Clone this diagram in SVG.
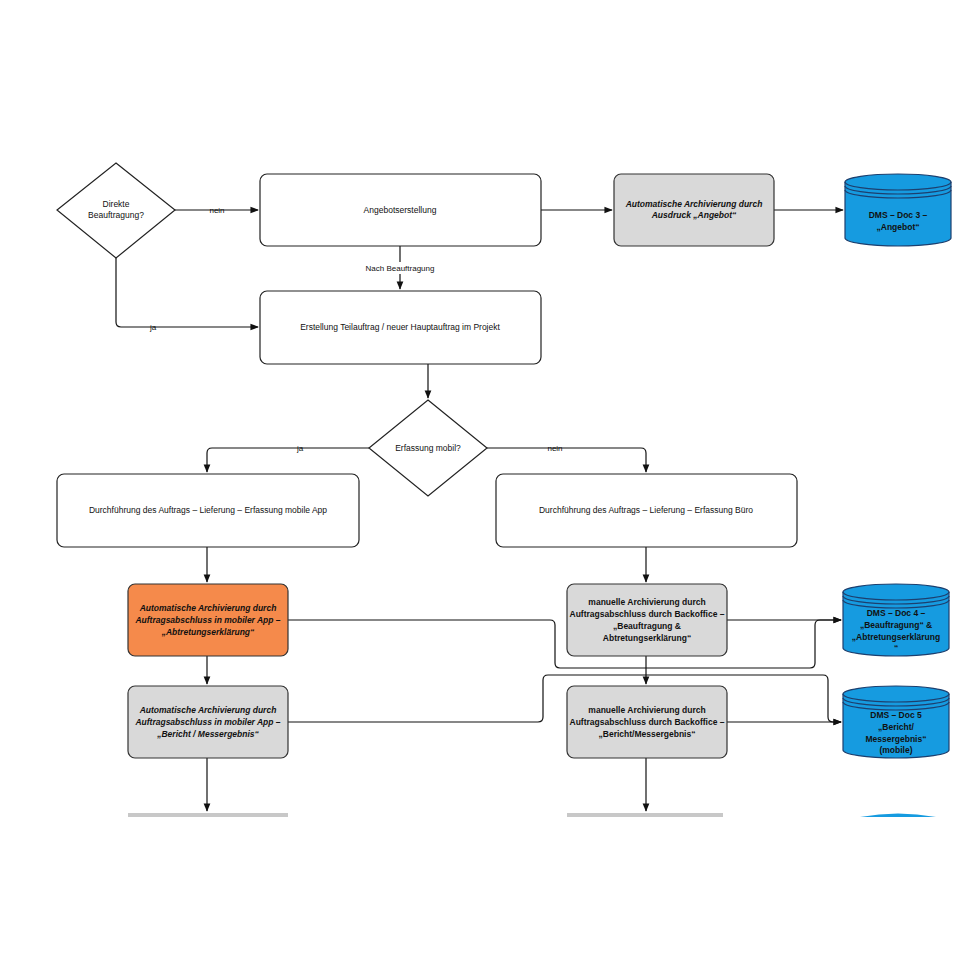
<svg xmlns="http://www.w3.org/2000/svg" width="960" height="960" viewBox="0 0 960 960">
<defs>
<marker id="arr" viewBox="0 0 10 10" refX="9" refY="5" markerWidth="7" markerHeight="7" orient="auto-start-reverse"><path d="M0,1 L10,5 L0,9 z" fill="#111"/></marker>
<style>
.box{fill:#fff;stroke:#222;stroke-width:1.2}
.gray{fill:#d9d9d9;stroke:#333;stroke-width:1.2}
.orange{fill:#f58a4b;stroke:#333;stroke-width:1.2}
.dia{fill:#fff;stroke:#222;stroke-width:1.2}
.cyl{fill:#169be0;stroke:#1d3f6e;stroke-width:1.2}
.cylline{fill:none;stroke:#1d3f6e;stroke-width:1.2}
.ln{fill:none;stroke:#111;stroke-width:1.2}
.cut{fill:#c8c8c8;stroke:none}
text{font-family:"Liberation Sans",Arial,sans-serif;font-size:8.5px;fill:#111;text-anchor:middle}
.b{font-weight:bold;font-style:italic}
.c{font-weight:bold;fill:#111}
.lbl{font-size:8px}
</style>
</defs>
<rect width="960" height="960" fill="#fff"/>

<g id="connectors">
<path class="ln" d="M175,210 H258" marker-end="url(#arr)"/>
<text class="lbl" x="217" y="213">nein</text>
<path class="ln" d="M541,210 H612" marker-end="url(#arr)"/>
<path class="ln" d="M774,210 H843" marker-end="url(#arr)"/>
<path class="ln" d="M400,246 V289" marker-end="url(#arr)"/>
<rect x="356" y="262" width="88" height="12" fill="#fff"/>
<text class="lbl" x="400" y="271">Nach Beauftragung</text>
<path class="ln" d="M116,258 V322 Q116,327 121,327 H258" marker-end="url(#arr)"/>
<text class="lbl" x="153" y="330">ja</text>
<path class="ln" d="M428,364 V398" marker-end="url(#arr)"/>
<path class="ln" d="M369,448 H212 Q207,448 207,453 V472" marker-end="url(#arr)"/>
<text class="lbl" x="300" y="451">ja</text>
<path class="ln" d="M487,448 H641 Q646,448 646,453 V472" marker-end="url(#arr)"/>
<text class="lbl" x="555" y="451">nein</text>
<path class="ln" d="M207,547 V582" marker-end="url(#arr)"/>
<path class="ln" d="M207,656 V684" marker-end="url(#arr)"/>
<path class="ln" d="M207,758 V811" marker-end="url(#arr)"/>
<path class="ln" d="M646,547 V582" marker-end="url(#arr)"/>
<path class="ln" d="M646,656 V684" marker-end="url(#arr)"/>
<path class="ln" d="M646,758 V811" marker-end="url(#arr)"/>
<path class="ln" d="M288,620 H550 Q555,620 555,625 V663 Q555,668 560,668 H810 Q815,668 815,663 V625 Q815,620 820,620 H841" marker-end="url(#arr)"/>
<path class="ln" d="M727,620 H841" marker-end="url(#arr)"/>
<path class="ln" d="M288,722 H538 Q543,722 543,717 V680 Q543,675 548,675 H823 Q828,675 828,680 V717 Q828,722 833,722 H841" marker-end="url(#arr)"/>
<path class="ln" d="M727,722 H841" marker-end="url(#arr)"/>
</g>

<g id="n_direkt">
<polygon class="dia" points="116,163 175,210 116,258 57,210"/>
<text x="116" y="207">Direkte</text>
<text x="116" y="218">Beauftragung?</text>
</g>

<g id="n_angebot">
<rect class="box" x="260" y="174" width="281" height="72" rx="7"/>
<text x="400" y="213">Angebotserstellung</text>
</g>

<g id="n_arch1">
<rect class="gray" x="614" y="174" width="160" height="72" rx="7"/>
<text class="b" x="694" y="207">Automatische Archivierung durch</text>
<text class="b" x="694" y="218">Ausdruck „Angebot“</text>
</g>

<g id="n_dms3">
<path class="cyl" d="M845,182 A53,8 0 0 1 951,182 V238 A53,8 0 0 1 845,238 Z"/>
<path class="cylline" d="M845,182 A53,8 0 0 0 951,182 M845,186 A53,8 0 0 0 951,186 M845,190 A53,8 0 0 0 951,190"/>
<text class="c" x="898" y="218">DMS – Doc 3 –</text>
<text class="c" x="898" y="230">„Angebot“</text>
</g>

<g id="n_erstellung">
<rect class="box" x="260" y="291" width="281" height="73" rx="7"/>
<text x="400" y="330">Erstellung Teilauftrag / neuer Hauptauftrag im Projekt</text>
</g>

<g id="n_mobil">
<polygon class="dia" points="428,400 487,448 428,496 369,448"/>
<text x="428" y="451">Erfassung mobil?</text>
</g>

<g id="n_durch_mobil">
<rect class="box" x="57" y="474" width="302" height="73" rx="7"/>
<text x="208" y="513">Durchführung des Auftrags – Lieferung – Erfassung mobile App</text>
</g>

<g id="n_durch_buero">
<rect class="box" x="496" y="474" width="301" height="73" rx="7"/>
<text x="646" y="513">Durchführung des Auftrags – Lieferung – Erfassung Büro</text>
</g>

<g id="n_auto_abtretung">
<rect class="orange" x="128" y="584" width="160" height="72" rx="7"/>
<text class="b" x="208" y="611">Automatische Archivierung durch</text>
<text class="b" x="208" y="623">Auftragsabschluss in mobiler App –</text>
<text class="b" x="208" y="635">„Abtretungserklärung“</text>
</g>

<g id="n_manuell_abtretung">
<rect class="gray" x="567" y="584" width="160" height="72" rx="7"/>
<text class="c" x="647" y="605">manuelle Archivierung durch</text>
<text class="c" x="647" y="617">Auftragsabschluss durch Backoffice –</text>
<text class="c" x="647" y="629">„Beauftragung &amp;</text>
<text class="c" x="647" y="641">Abtretungserklärung“</text>
</g>

<g id="n_dms4">
<path class="cyl" d="M843,592 A53,8 0 0 1 949,592 V648 A53,8 0 0 1 843,648 Z"/>
<path class="cylline" d="M843,592 A53,8 0 0 0 949,592 M843,596 A53,8 0 0 0 949,596 M843,600 A53,8 0 0 0 949,600"/>
<text class="c" x="896" y="616">DMS – Doc 4 –</text>
<text class="c" x="896" y="628">„Beauftragung“ &amp;</text>
<text class="c" x="896" y="640">„Abtretungserklärung</text>
<text class="c" x="896" y="651">“</text>
</g>

<g id="n_auto_bericht">
<rect class="gray" x="128" y="686" width="160" height="72" rx="7"/>
<text class="b" x="208" y="713">Automatische Archivierung durch</text>
<text class="b" x="208" y="725">Auftragsabschluss in mobiler App –</text>
<text class="b" x="208" y="737">„Bericht / Messergebnis“</text>
</g>

<g id="n_manuell_bericht">
<rect class="gray" x="567" y="686" width="160" height="72" rx="7"/>
<text class="c" x="647" y="713">manuelle Archivierung durch</text>
<text class="c" x="647" y="725">Auftragsabschluss durch Backoffice –</text>
<text class="c" x="647" y="737">„Bericht/Messergebnis“</text>
</g>

<g id="n_dms5">
<path class="cyl" d="M843,694 A53,8 0 0 1 949,694 V750 A53,8 0 0 1 843,750 Z"/>
<path class="cylline" d="M843,694 A53,8 0 0 0 949,694 M843,698 A53,8 0 0 0 949,698 M843,702 A53,8 0 0 0 949,702"/>
<text class="c" x="896" y="718">DMS – Doc 5</text>
<text class="c" x="896" y="730">„Bericht/</text>
<text class="c" x="896" y="742">Messergebnis“</text>
<text class="c" x="896" y="753">(mobile)</text>
</g>

<g id="n_cut_left">
<rect class="cut" x="128" y="813" width="160" height="4"/>
</g>
<g id="n_cut_right">
<rect class="cut" x="567" y="813" width="156" height="4"/>
</g>
<g id="n_cut_cyl">
<path d="M860,817 Q898,810 936,817 Z" fill="#169be0"/>
</g>
<rect x="0" y="817" width="960" height="143" fill="#fff"/>
</svg>
